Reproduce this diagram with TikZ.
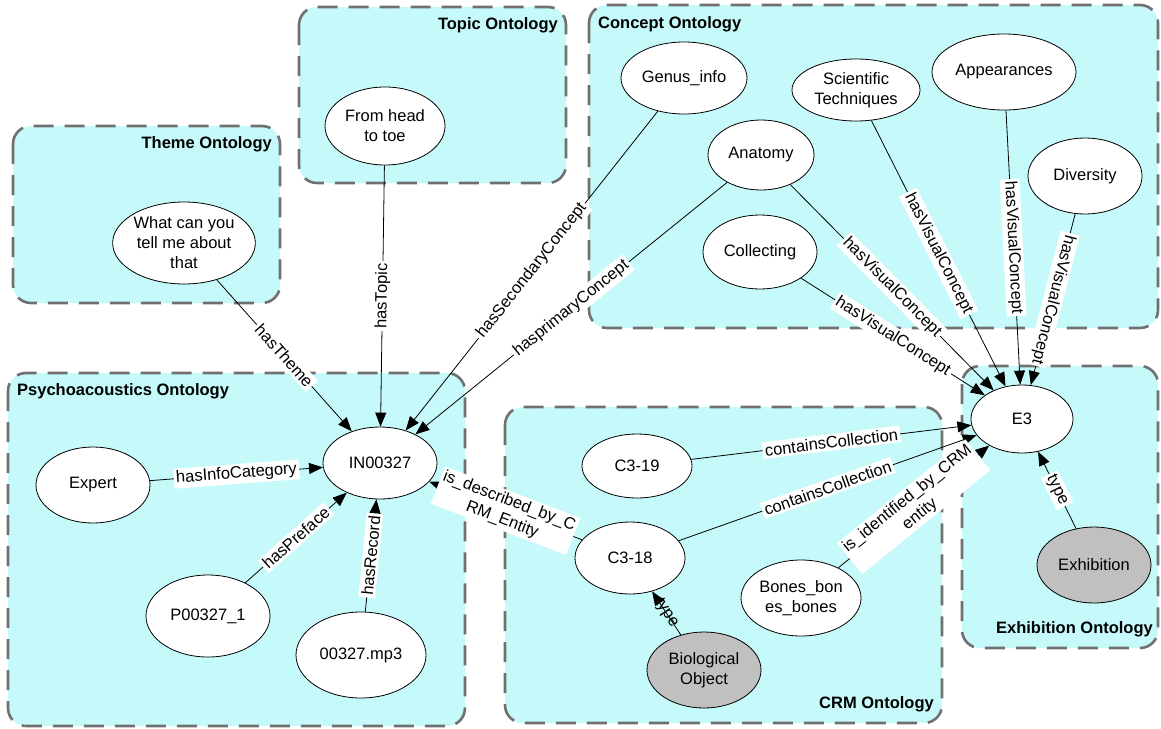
\documentclass[tikz,border=0pt]{standalone}
\usepackage{fontspec}
\setmainfont{Liberation Sans}
\usetikzlibrary{arrows.meta,shapes.geometric}
\definecolor{boxfill}{RGB}{198,250,250}
\definecolor{boxline}{RGB}{112,112,112}
\definecolor{grayfill}{RGB}{192,192,192}
\begin{document}
\begin{tikzpicture}[x=1pt,y=-1pt,
  font=\fontsize{16.5}{20}\selectfont,
  onto/.style={draw=boxline, line width=2.6pt, dash pattern=on 20pt off 11pt, fill=boxfill, rounded corners=18pt},
  ent/.style={ellipse, draw=black, line width=0.8pt, fill=white, inner sep=0pt, align=center},
  cls/.style={ent, fill=grayfill},
  rel/.style={-{Triangle[length=14pt,width=11pt]}, line width=0.8pt, draw=black},
  lbl/.style={fill=white, inner sep=2.2pt, sloped, align=center, midway},
  title/.style={font=\fontsize{16.5}{20}\selectfont\bfseries, inner sep=0pt}
]
\fill[white] (0,0) rectangle (1161,728);
\useasboundingbox (0,0) rectangle (1161,728);

% ontology boxes
\draw[onto] (13,126) rectangle (280,303);
\draw[onto] (299,7) rectangle (566,183);
\draw[onto] (589,5) rectangle (1158,328);
\draw[onto] (8,373) rectangle (465,726);
\draw[onto] (505,407) rectangle (942,723);
\draw[onto] (962,366) rectangle (1158,648);

\node[title, anchor=east] (tTheme) at (272,144) {Theme Ontology};
\node[title, anchor=east] (tTopic) at (558,25) {Topic Ontology};
\node[title, anchor=west] (tConcept) at (598,24) {Concept Ontology};
\node[title, anchor=west] (tPsy) at (17,391) {Psychoacoustics Ontology};
\node[title, anchor=east] (tCRM) at (934,704) {CRM Ontology};
\node[title, anchor=east] (tExh) at (1153,629) {Exhibition Ontology};

% entities
\node[ent, minimum width=140, minimum height=82] (theme) at (184,243) {What can you\\tell me about\\that};
\node[ent, minimum width=120, minimum height=78] (topic) at (385,126) {From head\\to toe};
\node[ent, minimum width=126, minimum height=72] (genus) at (684,78) {Genus\_info};
\node[ent, minimum width=128, minimum height=62] (sci) at (856,90) {Scientific\\Techniques};
\node[ent, minimum width=144, minimum height=76] (app) at (1004,72) {Appearances};
\node[ent, minimum width=106, minimum height=70] (anat) at (761,155) {Anatomy};
\node[ent, minimum width=114, minimum height=76] (div) at (1085,176) {Diversity};
\node[ent, minimum width=114, minimum height=74] (coll) at (760,252) {Collecting};
\node[ent, minimum width=114, minimum height=76] (expert) at (93,485) {Expert};
\node[ent, minimum width=114, minimum height=72] (in) at (380,463) {IN00327};
\node[ent, minimum width=124, minimum height=82] (pref) at (208,616) {P00327\_1};
\node[ent, minimum width=130, minimum height=86] (mp3) at (361,655) {00327.mp3};
\node[ent, minimum width=110, minimum height=64] (c19) at (637,466) {C3-19};
\node[ent, minimum width=110, minimum height=72] (c18) at (630,558) {C3-18};
\node[ent, minimum width=120, minimum height=76] (bones) at (801,598) {Bones\_bon\\es\_bones};
\node[cls, minimum width=114, minimum height=76] (bio) at (704,670) {Biological\\Object};
\node[ent, minimum width=102, minimum height=68] (e3) at (1022,419) {E3};
\node[cls, minimum width=114, minimum height=76] (exh) at (1094,565) {Exhibition};

% relations
\draw[rel] (theme) -- node[lbl]{hasTheme} (in);
\draw[rel] (topic) -- node[lbl]{hasTopic} (in);
\draw[rel] (genus) -- node[lbl]{hasSecondaryConcept} (in);
\draw[rel] (anat) -- node[lbl]{hasprimaryConcept} (in);
\draw[rel] (expert) -- node[lbl]{hasInfoCategory} (in);
\draw[rel] (pref) -- node[lbl]{hasPreface} (in);
\draw[rel] (mp3) -- node[lbl]{hasRecord} (in);
\draw[rel] (c18) -- node[lbl]{is\_described\_by\_C\\RM\_Entity} (in);

\draw[rel] (anat) -- node[lbl]{hasVisualConcept} (e3);
\draw[rel] (sci) -- node[lbl]{hasVisualConcept} (e3);
\draw[rel] (app) -- node[lbl]{hasVisualConcept} (e3);
\draw[rel] (div) -- node[lbl, allow upside down]{hasVisualConcept} (e3);
\draw[rel] (coll) -- node[lbl]{hasVisualConcept} (e3);

\draw[rel] (c19) -- node[lbl]{containsCollection} (e3);
\draw[rel] (c18) -- node[lbl]{containsCollection} (e3);
\draw[rel] (bones) -- node[lbl]{is\_identified\_by\_CRM\\entity} (e3);
\draw[rel] (exh) -- node[lbl]{type} (e3);
\draw[rel] (bio) -- node[lbl, fill=none]{type} (c18);
\end{tikzpicture}
\end{document}
